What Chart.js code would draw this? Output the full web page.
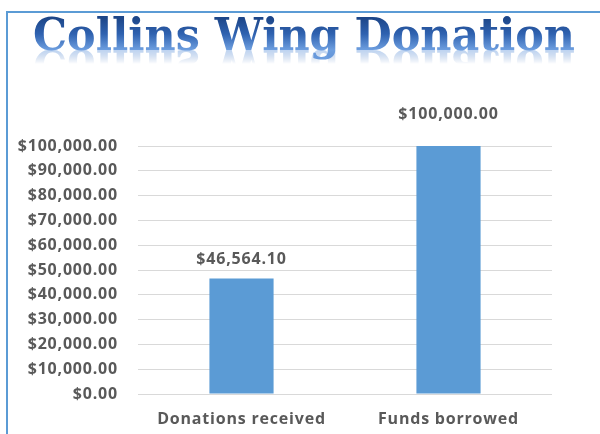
<!DOCTYPE html>
<html>
<head>
<meta charset="utf-8">
<script src="https://cdn.jsdelivr.net/npm/chart.js@4/dist/chart.umd.min.js"></script>
<style>
  html, body { margin: 0; padding: 0; background: #fff; }
  #wrap { width: 600px; height: 434px; }
</style>
</head>
<body>
<div id="wrap"><canvas id="chartDonasi" width="600" height="434"></canvas></div>
<script>
// data
const titleText = "Collins Wing Donation";
const categories = ["Donations received", "Funds borrowed"];
const amounts = [46564.10, 100000.00];
const yMin = 0;
const yMax = 100000;
const yStep = 10000;

const textGrey = "#595959";
const barBlue = "#5b9bd5";

function fmtUang(v) {
    return "$" + Number(v).toLocaleString("en-US", { minimumFractionDigits: 2, maximumFractionDigits: 2 });
}

// frame + wordart title
const framePlugin = {
    id: "frame",
    beforeDraw(chart) {
        const ctx = chart.ctx;
        ctx.letterSpacing = "0.8px";
        ctx.save();
        ctx.fillStyle = "#fff";
        ctx.fillRect(0, 0, chart.width, chart.height);
        ctx.strokeStyle = "#5b9bd5";
        ctx.lineWidth = 2;
        ctx.beginPath();
        ctx.moveTo(7, chart.height);
        ctx.lineTo(7, 12);
        ctx.lineTo(chart.width, 12);
        ctx.stroke();
        ctx.restore();
    },
    afterDraw(chart) {
        const ctx = chart.ctx;
        const font = "bold 44px 'DejaVu Serif'";
        const off = document.createElement("canvas");
        off.width = 600; off.height = 60;
        const oc = off.getContext("2d");
        oc.font = font;
        const w = oc.measureText(titleText).width;
        const sx = 542 / w;
        const base = 50;
        const grad = oc.createLinearGradient(0, 18, 0, base);
        grad.addColorStop(0, "#1d4688");
        grad.addColorStop(0.5, "#2f62b0");
        grad.addColorStop(1, "#6e9fe0");
        oc.save();
        oc.translate(33, 0);
        oc.scale(sx, 1);
        oc.font = font;
        oc.textBaseline = "alphabetic";
        oc.fillStyle = grad;
        oc.fillText(titleText, 0, base);
        oc.restore();

        // reflection
        const ref = document.createElement("canvas");
        ref.width = 600; ref.height = 20;
        const rc = ref.getContext("2d");
        rc.save();
        rc.scale(1, -1);
        rc.drawImage(off, 0, -base);
        rc.restore();
        rc.globalCompositeOperation = "destination-in";
        const fade = rc.createLinearGradient(0, 0, 0, 14);
        fade.addColorStop(0, "rgba(0,0,0,0.45)");
        fade.addColorStop(1, "rgba(0,0,0,0)");
        rc.fillStyle = fade;
        rc.fillRect(0, 0, 600, 20);

        ctx.drawImage(off, 0, 0);
        ctx.drawImage(ref, 0, base);
    }
};

// value labels above the bars
const labelPlugin = {
    id: "nilaiBar",
    afterDatasetsDraw(chart) {
        const ctx = chart.ctx;
        const meta = chart.getDatasetMeta(0);
        const lift = [19, 32];
        ctx.save();
        ctx.font = "bold 16px 'Open Sans'";
        ctx.fillStyle = textGrey;
        ctx.textAlign = "center";
        ctx.textBaseline = "middle";
        meta.data.forEach((bar, i) => {
            ctx.fillText(fmtUang(amounts[i]), bar.x, bar.y - lift[i]);
        });
        ctx.restore();
    }
};

new Chart(document.getElementById("chartDonasi"), {
    type: "bar",
    data: {
        labels: categories,
        datasets: [{
            data: amounts,
            backgroundColor: barBlue,
            borderWidth: 0,
            categoryPercentage: 1,
            barPercentage: 0.31
        }]
    },
    options: {
        responsive: false,
        animation: false,
        devicePixelRatio: 1,
        layout: { padding: { top: 146, right: 48, left: 0, bottom: 0 } },
        plugins: { legend: { display: false }, tooltip: { enabled: false }, title: { display: false } },
        scales: {
            x: {
                grid: { display: false, drawTicks: false },
                border: { display: false },
                ticks: { color: textGrey, font: { family: "Open Sans", weight: "bold", size: 16 }, padding: 16 },
                afterFit(scale) { scale.height = 40; }
            },
            y: {
                min: yMin,
                max: yMax,
                grid: { color: "#d9d9d9", drawTicks: false, lineWidth: 1 },
                border: { display: false },
                ticks: {
                    stepSize: yStep,
                    color: textGrey,
                    font: { family: "Open Sans", weight: "bold", size: 16 },
                    padding: 20,
                    callback: v => fmtUang(v)
                },
                afterFit(scale) { scale.width = 138; }
            }
        }
    },
    plugins: [framePlugin, labelPlugin]
});
</script>
</body>
</html>
